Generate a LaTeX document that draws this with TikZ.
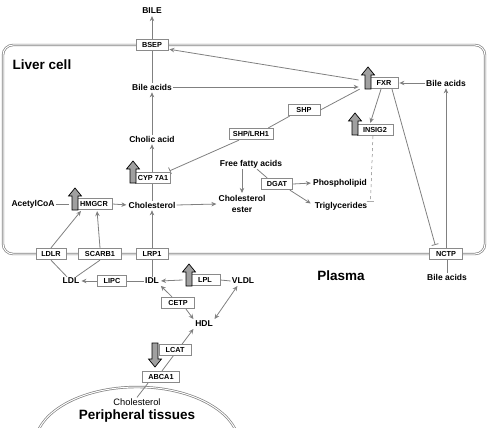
\documentclass[tikz,border=0pt]{standalone}
\usepackage{fontspec}
\setmainfont{Liberation Sans}
\usetikzlibrary{arrows.meta}
\definecolor{boxgray}{HTML}{8A8A8A}
\definecolor{conngray}{HTML}{808080}
\definecolor{fillgray}{HTML}{A0A0A0}
\pgfdeclarelayer{background}
\pgfsetlayers{background,main}
\newcommand{\myblkup}[2]{\draw[blockarrow] (#1,#2) -- ++(-3,0) -- ++(0,-14) -- ++(-3.5,0) -- ++(6.5,-8) -- ++(6.5,8) -- ++(-3.5,0) -- ++(0,14) -- cycle;}
\newcommand{\myblkdown}[2]{\draw[blockarrow] (#1,#2) -- ++(-3,0) -- ++(0,16) -- ++(-3.5,0) -- ++(6.5,8) -- ++(6.5,-8) -- ++(-3.5,0) -- ++(0,-16) -- cycle;}
\tikzset{
  lbl/.style={font=\bfseries\fontsize{8.5}{11.5}\selectfont, inner sep=1pt},
  box/.style={draw=boxgray, fill=white, line width=0.8pt, font=\bfseries\fontsize{7.3}{9}\selectfont, inner xsep=2pt, inner ysep=0pt, minimum height=11.5pt},
  big/.style={font=\bfseries\fontsize{13.5}{15}\selectfont, inner sep=1pt},
  conn/.style={draw=conngray, line width=0.8pt},
  arr/.style={conn, -{Stealth[length=5pt,width=4.5pt]}, shorten >=1pt},
  dbl/.style={conn, {Stealth[length=5pt,width=4.5pt]}-{Stealth[length=5pt,width=4.5pt]}, shorten >=1pt, shorten <=1pt},
  inh/.style={conn, -{Bar[width=7pt]}},
  membrane/.style={draw=conngray, line width=0.7pt, double=white, double distance=1pt},
  blockarrow/.style={fill=fillgray, draw=black, line width=0.7pt, line join=miter}
}
\begin{document}
\begin{tikzpicture}[x=1pt,y=-1pt]
\useasboundingbox (0,0) rectangle (488,428);
% nodes
\node[lbl] (bile) at (152,11) {BILE};
\node[box, minimum width=32pt] (bsep) at (152,45) {BSEP};
\node[big] (liver) at (42,65) {Liver cell};
\node[lbl] (ba1) at (152,87) {Bile acids};
\node[lbl] (cholic) at (152,139) {Cholic acid};
\node[box, minimum width=28pt] (fxr) at (384,83) {FXR};
\node[lbl] (ba2) at (446,83) {Bile acids};
\node[box, minimum width=32pt] (shp) at (304,110) {SHP};
\node[box, minimum width=44pt] (shplrh) at (251,134) {SHP/LRH1};
\node[box, minimum width=36pt] (insig) at (375,130) {INSIG2};
\node[box, minimum width=34pt] (cyp) at (153,178) {CYP 7A1};
\node[lbl] (ffa) at (251,164) {Free fatty acids};
\node[box, minimum width=31pt] (dgat) at (277,184) {DGAT};
\node[lbl] (phos) at (340,183) {Phospholipid};
\node[lbl] (trig) at (341,206) {Triglycerides};
\node[lbl] (acetyl) at (33,204) {AcetylCoA};
\node[box, minimum width=36pt] (hmgcr) at (94,204) {HMGCR};
\node[lbl] (chol) at (152,205) {Cholesterol};
\node[lbl, align=center] (ester) at (242,204) {Cholesterol\\ester};
\node[box, minimum width=30pt] (ldlr) at (51,254) {LDLR};
\node[box, minimum width=43pt] (scarb) at (100,254) {SCARB1};
\node[box, minimum width=32pt] (lrp) at (152,254) {LRP1};
\node[box, minimum width=33pt] (nctp) at (446,254) {NCTP};
\node[big] (plasma) at (341,276) {Plasma};
\node[lbl] (ba3) at (447,277) {Bile acids};
\node[lbl] (ldl) at (71,281) {LDL};
\node[box, minimum width=29pt] (lipc) at (112,281) {LIPC};
\node[lbl] (idl) at (152,281) {IDL};
\node[box, minimum width=30pt] (lpl) at (205,280) {LPL};
\node[lbl] (vldl) at (243,281) {VLDL};
\node[box, minimum width=33pt] (cetp) at (178,303) {CETP};
\node[lbl] (hdl) at (204,324) {HDL};
\node[box, minimum width=32pt] (lcat) at (175,350) {LCAT};
\node[box, minimum width=37pt] (abca) at (161,377) {ABCA1};
\node[font=\fontsize{9.3}{11}\selectfont, inner sep=1pt] (pchol) at (137,402) {Cholesterol};
\node[big] (periph) at (137,416) {Peripheral tissues};
% background: membranes and connectors
\begin{pgfonlayer}{background}
\draw[membrane, rounded corners=10pt] (3,45) rectangle (485,254);
\begin{scope}
\clip (0,0) rectangle (488,428);
\draw[membrane] (137,445) ellipse [x radius=102pt, y radius=58pt];
\end{scope}
\draw[arr] (bsep.north) -- (bile.south);
\draw[conn] (ba1.north) -- (bsep.south);
\draw[arr] (cholic.north) -- (ba1.south);
\draw[arr] (cyp.north -| cholic.south) -- (cholic.south);
\draw[conn] (chol.north) -- (chol.north |- cyp.south);
\draw[arr] (lrp.north) -- (lrp.north |- chol.south);
\draw[conn] (acetyl.east) -- ([xshift=-7pt]hmgcr.west);
\draw[arr] (hmgcr.east) -- (chol.west);
\draw[arr] (chol.east) -- (ester.west);
\draw[arr] (ester.north |- ffa.south) -- (ester.north);
\draw[conn] ([xshift=6pt]ffa.south) -- ([xshift=6pt]dgat.north west);
\draw[arr] (dgat.east) -- (phos.west);
\draw[arr] ([xshift=-3pt]dgat.south east) -- ([xshift=-2pt,yshift=2pt]trig.west);
\draw[arr] (ba1.east) -- ([xshift=-10pt,yshift=-4pt]fxr.west);
\draw[arr] ([xshift=-11pt,yshift=3pt]fxr.west) -- ([yshift=2pt]bsep.south east);
\draw[arr] (ba2.west) -- (fxr.east);
\draw[arr] (nctp.north) -- (nctp.north |- ba2.south);
\draw[conn] (ba3.north) -- (ba3.north |- nctp.south);
\draw[conn] (shp.east) -- ([xshift=-10pt]fxr.south west);
\draw[conn] ([xshift=2pt]shp.south west) -- ([xshift=-5pt]shplrh.north east);
\draw[inh] ([xshift=-12pt]shplrh.south) -- ([xshift=-1pt,yshift=1pt]cyp.north east);
\draw[arr] ([xshift=-3pt]fxr.south) -- ([xshift=-5pt]insig.north);
\draw[inh, shorten >=3pt] ([xshift=8pt]fxr.south) -- ([xshift=-10pt]nctp.north);
\draw[inh, dashed, line width=0.5pt] ([xshift=-2pt]insig.south) -- ([xshift=2pt,yshift=-1pt]trig.north east);
\draw[arr] (ldlr.north) -- ([xshift=6pt]hmgcr.south west);
\draw[arr] (scarb.north) -- ([xshift=3pt]hmgcr.south);
\draw[conn] (ldlr.south) -- ([xshift=-4pt]ldl.north);
\draw[conn] (scarb.south) -- ([xshift=5pt]ldl.north);
\draw[conn] (lrp.south) -- (lrp.south |- idl.north);
\draw[arr] (lipc.west) -- (ldl.east);
\draw[conn] (idl.west) -- (lipc.east);
\draw[arr] ([xshift=-7pt]lpl.west) -- (idl.east);
\draw[conn] (vldl.west) -- (lpl.east);
\draw[arr] ([xshift=-6pt]cetp.north) -- (idl.south east);
\draw[arr] ([xshift=8pt]cetp.south) -- (hdl.north west);
\draw[dbl] ([xshift=-5pt]vldl.south) -- (hdl.north east);
\draw[arr] ([xshift=1pt]abca.north) -- (hdl.south west);
\draw[conn] ([xshift=-13pt]abca.south) -- (pchol.north);
\end{pgfonlayer}
% block arrows
\myblkup{368}{89}
\myblkup{355}{135}
\myblkup{75}{210}
\myblkup{133}{183}
\myblkup{189}{286}
\myblkdown{155}{343}
\end{tikzpicture}
\end{document}
